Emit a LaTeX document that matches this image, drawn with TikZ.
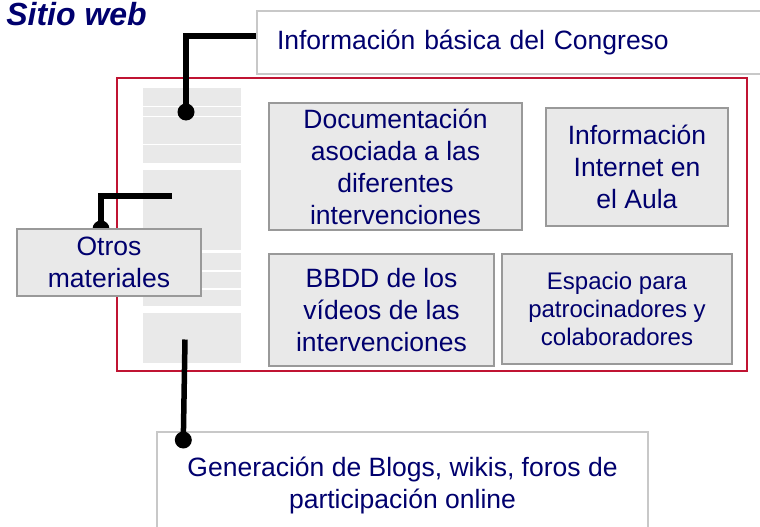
\documentclass[tikz,border=0pt]{standalone}
\usepackage{fontspec}
\setmainfont{Liberation Sans}
\usetikzlibrary{positioning}
\definecolor{navytext}{RGB}{0,0,110}
\definecolor{sitered}{RGB}{192,20,50}
\definecolor{boxfill}{RGB}{233,233,233}
\definecolor{boxedge}{RGB}{153,153,153}
\definecolor{calloutedge}{RGB}{200,200,200}
\definecolor{panelfill}{RGB}{233,233,233}
\tikzstyle{contentbox} = [rectangle, draw=boxedge, fill=boxfill, line width=2pt, text=navytext, align=center, inner sep=0pt, font=\fontsize{26.5pt}{32pt}\selectfont]
\tikzstyle{calloutbox} = [rectangle, draw=calloutedge, fill=white, line width=2pt, text=navytext, inner sep=0pt, font=\fontsize{26.5pt}{32pt}\selectfont]
\tikzstyle{navpanel} = [rectangle, fill=panelfill, inner sep=0pt, minimum width=98pt, anchor=north west]
\tikzstyle{siteframe} = [rectangle, draw=sitered, line width=1.8pt, inner sep=0pt, anchor=north west]
\tikzstyle{leaderline} = [line width=5.5pt, draw=black]
\tikzstyle{enddot} = [circle, fill=black, inner sep=0pt, minimum size=17pt]

\begin{document}
\begin{tikzpicture}[x=1pt, y=-1pt, node distance=1cm]
\useasboundingbox (0,0) rectangle (760,527);
\clip (0,0) rectangle (760,527);
\fill[white] (0,0) rectangle (760,527);

\node (title) [anchor=base east, inner sep=0pt, text=navytext, font=\fontsize{32pt}{36pt}\selectfont\bfseries\itshape] at (147,25.5) {Sitio web};

% the web page
\node (site) [siteframe, minimum width=630pt, minimum height=293pt] at (116,77) {};

\node (nav1) [navpanel, minimum height=75pt] at (143,88) {};
\node (nav2) [navpanel, minimum height=80pt] at (143,170) {};
\node (nav3) [navpanel, minimum height=17.5pt] at (143,252.5) {};
\node (nav4) [navpanel, minimum height=16pt] at (143,272) {};
\node (nav5) [navpanel, minimum height=16pt] at (143,290) {};
\node (nav6) [navpanel, minimum height=50pt] at (143,313) {};
\foreach \y in {106,116,144}
  \draw[white, line width=0.7pt] (nav1.west |- 0,\y) -- (nav1.east |- 0,\y);

\node (docs) [contentbox, minimum width=253pt, minimum height=127pt] at (395.5,166.5) {Documentación\\asociada a las\\diferentes\\intervenciones};
\node (aula) [contentbox, minimum width=182pt, minimum height=118pt] at (637,167) {Información\\Internet en\\el Aula};
\node (videos) [contentbox, minimum width=225pt, minimum height=112pt] at (381.5,310) {BBDD de los\\vídeos de las\\intervenciones};
\node (sponsors) [contentbox, minimum width=230pt, minimum height=110pt, font=\fontsize{24pt}{28pt}\selectfont] at (617,309) {Espacio para\\patrocinadores y\\colaboradores};

% callouts
\node (info) [calloutbox, anchor=north west, minimum height=63pt, text width=474pt, inner xsep=20pt, align=left] at (256,10) {Información básica del Congreso};
\node (blogs) [calloutbox, anchor=north, minimum width=491pt, inner ysep=25pt, align=center] at (402.5,431) {Generación de Blogs, wikis, foros de\\participación online};

\coordinate (pin1) at (186,112);
\coordinate (pin2a) at (172,196);
\coordinate (pin2) at (101,229);
\coordinate (pin3a) at (185,339.5);
\coordinate (pin3) at (183.3,440);

\draw [leaderline] ([yshift=6.5pt]info.west) -| (pin1);
\node (dot1) [enddot] at (pin1) {};
\draw [leaderline] (pin2a) -| (pin2);
\node (dot2) [enddot] at (pin2) {};
\draw [leaderline] (pin3a) -- (pin3);
\node (dot3) [enddot] at (pin3) {};

\node (otros) [contentbox, minimum width=184pt, minimum height=67pt] at (109,262.5) {Otros\\materiales};
\end{tikzpicture}
\end{document}
